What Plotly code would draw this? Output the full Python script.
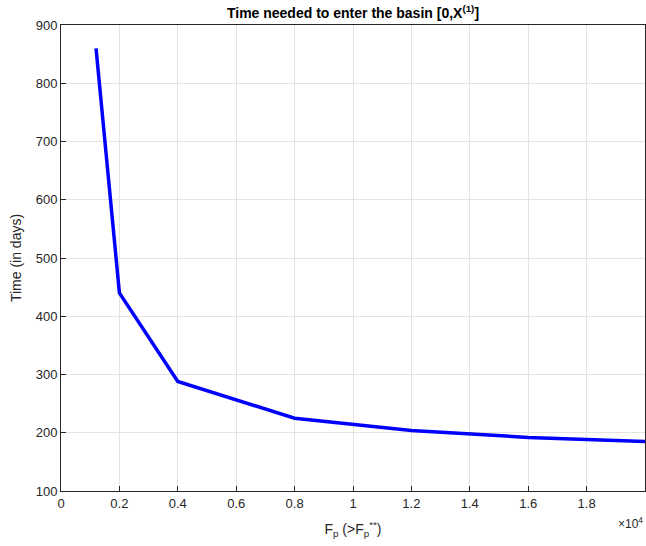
import plotly.graph_objects as go

fp = [1200, 2000, 4000, 8000, 12000, 16000, 20000]
time_days = [860, 440, 288, 225, 204, 192, 185]

xtick_vals = [0, 2000, 4000, 6000, 8000, 10000, 12000, 14000, 16000, 18000]
xtick_text = ["0", "0.2", "0.4", "0.6", "0.8", "1", "1.2", "1.4", "1.6", "1.8"]
ytick_vals = [100, 200, 300, 400, 500, 600, 700, 800, 900]

font = "Liberation Sans, Arial, sans-serif"

fig = go.Figure()
fig.add_trace(go.Scatter(x=fp, y=time_days, mode="lines",
                         line=dict(color="#0000ff", width=3.5)))

fig.update_layout(
    width=646, height=546,
    paper_bgcolor="white", plot_bgcolor="white",
    margin=dict(l=61, r=1, t=25, b=55, autoexpand=False),
    showlegend=False,
    font=dict(family=font, size=13, color="#262626"),
    title=dict(text="<b>Time needed to enter the basin [0,X<sup>(1)</sup>]</b>",
               x=0.5, xref="paper", xanchor="center", y=1 - 13 / 546, yref="container",
               yanchor="middle", automargin=False,
               font=dict(family=font, size=14, color="black")),
    xaxis=dict(range=[0, 20000], tickvals=xtick_vals, ticktext=xtick_text,
               automargin=False,
               showgrid=True, gridcolor="#e3e3e3", gridwidth=1,
               zeroline=False, showline=True, linecolor="#262626", linewidth=1,
               mirror=True, ticks="inside", ticklen=5, tickcolor="#262626",
               title=dict(text="F<sub>p</sub> (>F<sub>p</sub><sup>**</sup>)", standoff=14,
                          font=dict(family=font, size=14, color="#262626"))),
    yaxis=dict(range=[100, 900], tickvals=ytick_vals,
               automargin=False,
               showgrid=True, gridcolor="#e3e3e3", gridwidth=1,
               zeroline=False, showline=True, linecolor="#262626", linewidth=1,
               mirror=True, ticks="inside", ticklen=5, tickcolor="#262626",
               title=dict(text="Time (in days)", standoff=10,
                          font=dict(family=font, size=14, color="#262626"))),
)

fig.add_annotation(text="\u00d710<sup>4</sup>", xref="paper", yref="paper",
                   x=1.0, y=0, xanchor="right", yanchor="top", yshift=-22,
                   showarrow=False, font=dict(family=font, size=12, color="#262626"))

fig.write_html("out.html", config={"displayModeBar": False},
               post_script="document.body.style.margin='0';")
